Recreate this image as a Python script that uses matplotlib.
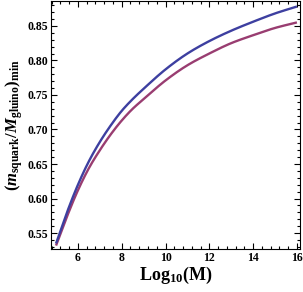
import matplotlib
matplotlib.use("Agg")
import matplotlib.pyplot as plt
import numpy as np
from matplotlib.ticker import MultipleLocator, FormatStrFormatter

plt.rcParams['mathtext.fontset'] = 'custom'
plt.rcParams['mathtext.rm'] = 'Liberation Serif:bold'
plt.rcParams['mathtext.it'] = 'Liberation Serif:bold:italic'
plt.rcParams['mathtext.bf'] = 'Liberation Serif:bold'
plt.rcParams['font.family'] = 'Liberation Serif'
plt.rcParams['font.weight'] = 'bold'

# data
log_m = [5, 5.5, 6, 6.5, 7, 7.5, 8, 8.5, 9, 10, 11, 12, 13, 14, 15, 16]
ratio_blue = [0.535, 0.580, 0.620, 0.654, 0.682, 0.706, 0.727, 0.744, 0.759,
              0.787, 0.810, 0.828, 0.843, 0.856, 0.868, 0.878]
ratio_red = [0.532, 0.574, 0.612, 0.644, 0.670, 0.693, 0.713, 0.730, 0.744,
             0.771, 0.793, 0.810, 0.825, 0.8365, 0.847, 0.855]

def smooth(x, y):
    """Monotone cubic (PCHIP) curve through the read points, for drawing."""
    x = np.asarray(x, float); y = np.asarray(y, float)
    xs = np.linspace(x[0], x[-1], 400)
    h = np.diff(x); d = np.diff(y) / h
    m = np.zeros_like(y)
    m[0] = d[0]; m[-1] = d[-1]
    for i in range(1, len(x) - 1):
        if d[i-1] * d[i] > 0:
            w1 = 2*h[i] + h[i-1]; w2 = h[i] + 2*h[i-1]
            m[i] = (w1 + w2) / (w1/d[i-1] + w2/d[i])
    ys = np.empty_like(xs)
    for j, xv in enumerate(xs):
        i = min(np.searchsorted(x, xv, side='right') - 1, len(x) - 2)
        t = (xv - x[i]) / h[i]
        h00 = 2*t**3 - 3*t**2 + 1; h10 = t**3 - 2*t**2 + t
        h01 = -2*t**3 + 3*t**2; h11 = t**3 - t**2
        ys[j] = h00*y[i] + h10*h[i]*m[i] + h01*y[i+1] + h11*h[i]*m[i+1]
    return xs, ys

fig = plt.figure(figsize=(3.03, 2.92), dpi=100)
ax = fig.add_axes([51/303, 43/292, 249/303, 248/292])

bx, by = smooth(log_m, ratio_blue)
rx, ry = smooth(log_m, ratio_red)
ax.plot(rx, ry, color='#993d71', lw=1.7, solid_capstyle='butt')
ax.plot(bx, by, color='#3d3fa0', lw=1.7, solid_capstyle='butt')

ax.set_xlim(4.77, 16.14)
ax.set_ylim(0.527, 0.886)
ax.xaxis.set_major_locator(MultipleLocator(2))
ax.xaxis.set_minor_locator(MultipleLocator(0.4))
ax.yaxis.set_major_locator(MultipleLocator(0.05))
ax.yaxis.set_minor_locator(MultipleLocator(0.01))
ax.yaxis.set_major_formatter(FormatStrFormatter('%.2f'))
ax.tick_params(which='both', direction='in', top=True, right=True, labelsize=8.5, width=0.8, pad=2)
ax.tick_params(which='major', length=4)
ax.tick_params(which='minor', length=2)
for s in ax.spines.values():
    s.set_linewidth(0.8)
for lab in ax.get_xticklabels() + ax.get_yticklabels():
    lab.set_fontweight('bold')

ax.set_xlabel(r'$\mathrm{Log}_{\mathrm{10}}\mathrm{(M)}$', fontsize=13, labelpad=1)
ax.set_ylabel(r'$(\mathit{m}_{\mathrm{squark}}/\mathit{M}_{\mathrm{gluino}})_{\mathrm{min}}$', fontsize=12, labelpad=2)

fig.savefig('out.png', dpi=100)
